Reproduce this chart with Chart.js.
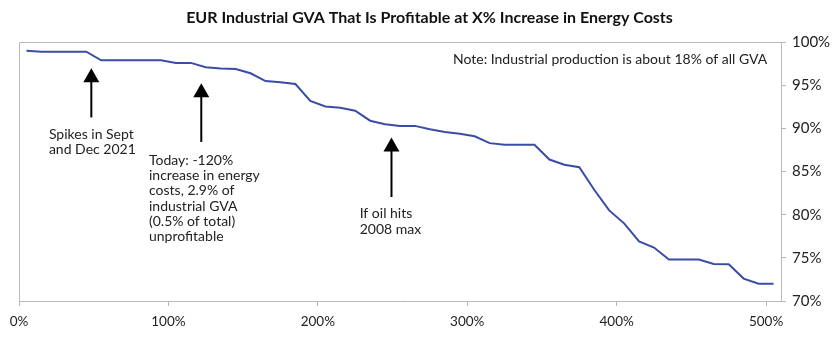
<!DOCTYPE html>
<html>
<head>
<meta charset="utf-8">
<script src="https://cdn.jsdelivr.net/npm/chart.js@4.4.1/dist/chart.umd.min.js"></script>
<style>
  html, body { margin: 0; padding: 0; background: #fff; }
  #wrap { width: 840px; height: 338px; position: relative; }
</style>
</head>
<body>
<div id="wrap"><canvas id="gvaChart"></canvas></div>
<script>
// increase in energy costs (%)
const aumentoCusto = [5, 15, 25, 35, 45, 55, 65, 75, 85, 95,
    105, 115, 125, 135, 145, 155, 165, 175, 185, 195,
    205, 215, 225, 235, 245, 255, 265, 275, 285, 295,
    305, 315, 325, 335, 345, 355, 365, 375, 385, 395,
    405, 415, 425, 435, 445, 455, 465, 475, 485, 495, 505];
// share of industrial GVA still profitable (%)
const gvaLucrativo = [99.0, 98.9, 98.9, 98.9, 98.9, 97.9, 97.9, 97.9, 97.9, 97.9,
    97.6, 97.6, 97.1, 96.95, 96.9, 96.4, 95.5, 95.35, 95.15, 93.2,
    92.55, 92.4, 92.05, 90.9, 90.5, 90.3, 90.3, 89.9, 89.6, 89.4,
    89.1, 88.3, 88.1, 88.1, 88.1, 86.4, 85.8, 85.5, 82.9, 80.5,
    79.0, 76.9, 76.2, 74.8, 74.8, 74.8, 74.3, 74.25, 72.6, 72.0, 72.0];

const xTicks = [0, 100, 200, 300, 400, 500];
const yTicks = [70, 75, 80, 85, 90, 95, 100];

// annotations: arrow x, arrow tip y, arrow tail y, text x, first line y, lines
const setaX = [48.4, 122, 249.3];
const setaTopo = [96.98, 95.23, 88.95];
const setaBase = [91.28, 88.44, 82.05];
const textoX = [20, 87, 228];
const textoY = [89.35, 86.3, 80.1];
const textos = [
    ['Spikes in Sept', 'and Dec 2021'],
    ['Today: -120%', 'increase in energy', 'costs, 2.9% of', 'industrial GVA', '(0.5% of total)', 'unprofitable'],
    ['If oil hits', '2008 max']
];
const nota = 'Note: Industrial production is about 18% of all GVA';

const corLinha = '#3a4da6';
const corBorda = '#b8b8b8';
const fonte = 'Lato, "Open Sans", sans-serif';

const anotacoesPlugin = {
    id: 'anotacoes',
    afterDatasetsDraw(chart) {
        const ctx = chart.ctx;
        const xs = chart.scales.x;
        const ys = chart.scales.y;
        const area = chart.chartArea;
        ctx.save();

        // left and top frame lines
        ctx.strokeStyle = corBorda;
        ctx.lineWidth = 1;
        ctx.beginPath();
        ctx.moveTo(Math.round(area.left) + 0.5, Math.round(area.bottom));
        ctx.lineTo(Math.round(area.left) + 0.5, Math.round(area.top) + 0.5);
        ctx.lineTo(Math.round(area.right), Math.round(area.top) + 0.5);
        ctx.stroke();

        // arrows
        ctx.strokeStyle = '#000';
        ctx.fillStyle = '#000';
        setaX.forEach((v, i) => {
            const px = xs.getPixelForValue(v);
            const topo = ys.getPixelForValue(setaTopo[i]);
            const base = ys.getPixelForValue(setaBase[i]);
            ctx.lineWidth = 2;
            ctx.beginPath();
            ctx.moveTo(px, base);
            ctx.lineTo(px, topo + 10);
            ctx.stroke();
            ctx.beginPath();
            ctx.moveTo(px, topo);
            ctx.lineTo(px - 8, topo + 14);
            ctx.lineTo(px + 8, topo + 14);
            ctx.closePath();
            ctx.fill();
        });

        // texts
        ctx.fillStyle = '#222';
        ctx.font = '14px ' + fonte;
        ctx.textAlign = 'left';
        ctx.textBaseline = 'middle';
        textos.forEach((linhas, i) => {
            const px = xs.getPixelForValue(textoX[i]);
            const py = ys.getPixelForValue(textoY[i]);
            linhas.forEach((t, j) => ctx.fillText(t, px, py + j * 15.2));
        });

        ctx.fillText(nota, 453, 59);
        ctx.restore();
    }
};

new Chart(document.getElementById('gvaChart'), {
    type: 'line',
    data: {
        datasets: [{
            data: aumentoCusto.map((x, i) => ({ x: x, y: gvaLucrativo[i] })),
            borderColor: corLinha,
            borderWidth: 2,
            pointRadius: 0,
            tension: 0,
            fill: false
        }]
    },
    options: {
        responsive: true,
        maintainAspectRatio: false,
        animation: false,
        layout: { padding: { left: 19, right: 0, top: 0, bottom: 0 } },
        plugins: {
            legend: { display: false },
            tooltip: { enabled: false },
            title: {
                display: true,
                text: 'EUR Industrial GVA That Is Profitable at X% Increase in Energy Costs',
                color: '#111',
                font: { family: fonte, size: 16, weight: 'bold' },
                padding: { top: 8, bottom: 15 }
            }
        },
        scales: {
            x: {
                type: 'linear',
                min: 0,
                max: 510,
                afterBuildTicks: (s) => { s.ticks = xTicks.map(v => ({ value: v })); },
                afterFit: (s) => { s.height = 37; },
                grid: { drawOnChartArea: false, drawTicks: true, tickLength: 5, color: corBorda },
                border: { color: corBorda },
                ticks: {
                    color: '#222',
                    font: { family: fonte, size: 13.5 },
                    padding: 8,
                    maxRotation: 0,
                    callback: v => v + '%'
                }
            },
            y: {
                position: 'right',
                min: 70,
                max: 100,
                afterBuildTicks: (s) => { s.ticks = yTicks.map(v => ({ value: v })); },
                afterFit: (s) => { s.width = 59; },
                grid: { drawOnChartArea: false, drawTicks: true, tickLength: 5, color: corBorda },
                border: { color: corBorda },
                ticks: {
                    color: '#222',
                    font: { family: fonte, size: 15 },
                    padding: 6,
                    callback: v => v + '%'
                }
            }
        }
    },
    plugins: [anotacoesPlugin]
});
</script>
</body>
</html>
